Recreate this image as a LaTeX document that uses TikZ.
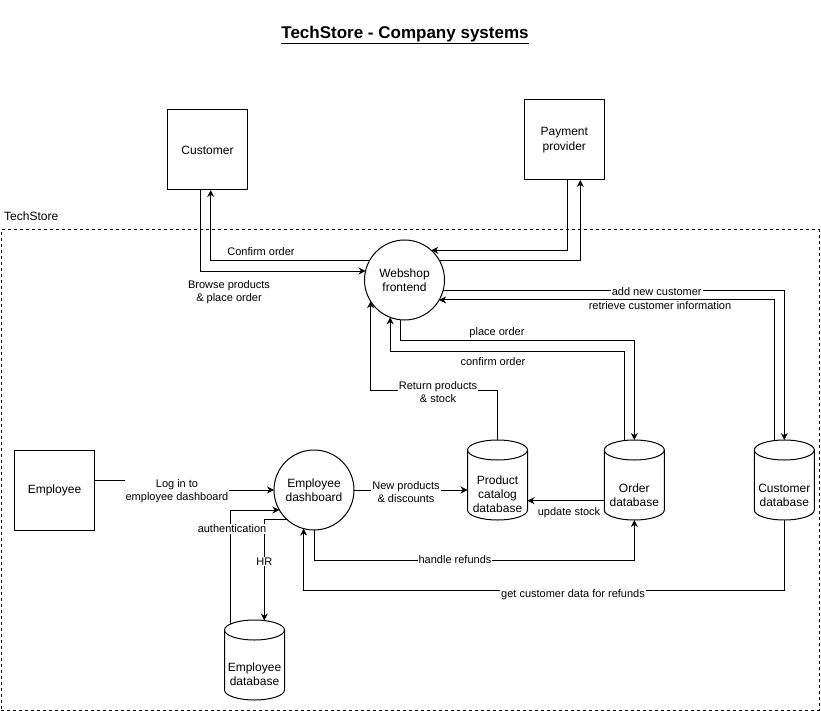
\documentclass[tikz,border=0pt]{standalone}
\usepackage{fontspec}
\setmainfont{Liberation Sans}
\usetikzlibrary{arrows.meta,calc}
\newcommand\drawcyl[1]{%
  \draw[line width=1pt, fill=white] ([yshift=-10pt]#1.north west) -- ([yshift=10pt]#1.south west)
    arc[start angle=180, end angle=360, x radius=30pt, y radius=10pt]
    -- ([yshift=-10pt]#1.north east)
    arc[start angle=0, end angle=180, x radius=30pt, y radius=10pt] -- cycle;
  \draw[line width=1pt] ([yshift=-10pt]#1.north west)
    arc[start angle=180, end angle=360, x radius=30pt, y radius=10pt];}
\begin{document}
\begin{tikzpicture}[x=1pt,y=-1pt,
  box/.style={draw, line width=1pt, minimum width=80pt, minimum height=80pt, inner sep=0pt, outer sep=0pt, align=center, font=\fontsize{12pt}{14.5pt}\selectfont},
  proc/.style={circle, draw, line width=1pt, minimum size=80pt, inner sep=0pt, outer sep=0pt, align=center, font=\fontsize{12pt}{14.5pt}\selectfont},
  dbnode/.style={rectangle, minimum width=60pt, minimum height=80pt, inner sep=0pt, outer sep=0pt},
  dbtext/.style={align=center, font=\fontsize{12pt}{14pt}\selectfont},
  lbl/.style={fill=white, inner sep=1pt, align=center, font=\fontsize{11pt}{13.5pt}\selectfont},
  flow/.style={line width=1pt, -{Stealth[length=7pt,width=7pt]}},
  plainline/.style={line width=1pt}]
\useasboundingbox (0,0) rectangle (821,711);

% title and container
\node[font=\fontsize{17pt}{20pt}\selectfont\bfseries] (title) at (405,35) {\underline{TechStore - Company systems}};
\node[anchor=west, font=\fontsize{12pt}{14pt}\selectfont, inner sep=0pt] (tslabel) at (4,216) {TechStore};
\node[draw, dashed, dash pattern=on 3pt off 3pt, line width=1pt, minimum width=818pt, minimum height=480pt, inner sep=0pt, outer sep=0pt] (ts) at (410,470) {};

% nodes
\node[box] (cust) at (207.5,150) {Customer};
\node[box] (pay) at (564.3,140) {Payment\\provider};
\node[proc] (web) at (404.5,280) {Webshop\\frontend};
\node[box] (emp) at (54.5,490) {Employee};
\node[proc] (dash) at (314,490) {Employee\\dashboard};
\node[dbnode] (empdb) at (254.5,660) {};
\node[dbnode] (proddb) at (497.5,480) {};
\node[dbnode] (orddb) at (634.3,480) {};
\node[dbnode] (custdb) at (784.3,480) {};
\drawcyl{empdb}
\drawcyl{proddb}
\drawcyl{orddb}
\drawcyl{custdb}
\node[dbtext] (empdbt) at (254.5,674) {Employee\\database};
\node[dbtext] (proddbt) at (497.5,494) {Product\\catalog\\database};
\node[dbtext] (orddbt) at (634.3,495) {Order\\database};
\node[dbtext] (custdbt) at (784.3,495) {Customer\\database};

% connectors
\draw[flow] ([xshift=-6.8pt]cust.south) |- (web.167);
\draw[flow] (web.151) -| ([xshift=3.2pt]cust.south);
\draw[flow] (web.29) -| ([xshift=16pt]pay.south);
\draw[flow] ([xshift=3.4pt]pay.south) |- (web.48);
\draw[flow] (web.-15) -| (custdb.north);
\draw[flow] ([xshift=-10pt,yshift=-0.6pt]custdb.north) |- (web.-30.5);
\draw[flow] (web.264.5) -- ++(0,21) -| (orddb.north);
\draw[flow] ([xshift=-10pt,yshift=-0.5pt]orddb.north) -- ++(0,-89.3) -| (web.249.8);
\draw[flow] (proddb.north) -- ++(0,-50) -| (web.212.3);
\draw[flow] ([yshift=9.3pt]emp.east) -| (177,490) -- (dash.west);
\draw[flow] ([xshift=-24.5pt,yshift=-4.2pt]empdb.north) |- (dash.210);
\draw[flow] (dash.228.6) -| ([xshift=9.8pt,yshift=-0.5pt]empdb.north);
\draw[flow] (dash.east) -- ([yshift=-10pt]proddb.west);
\draw[flow] ([yshift=-20.7pt]orddb.west) -- ([yshift=-20.7pt]proddb.east);
\draw[flow] (dash.south) -- ++(0,30) -| (orddb.south);
\draw[flow] (custdb.south) -- ++(0,70) -| (dash.255.5);

% labels
\node[lbl] (l1) at (229,292) {Browse products\\\& place order};
\node[lbl] (l2) at (261,252) {Confirm order};
\node[lbl] (l3) at (656.7,291.5) {add new customer};
\node[lbl] (l4) at (660,305.5) {retrieve customer information};
\node[lbl] (l5) at (497,332.5) {place order};
\node[lbl] (l6) at (493,362) {confirm order};
\node[lbl] (l7) at (438,392) {Return products\\\& stock};
\node[lbl] (l8) at (177,491) {Log in to\\employee dashboard};
\node[lbl] (l9) at (232,529) {authentication};
\node[lbl] (l10) at (264.3,561.5) {HR};
\node[lbl] (l11) at (406,492) {New products\\\& discounts};
\node[lbl] (l12) at (569,512.3) {update stock};
\node[lbl] (l13) at (455,559.5) {handle refunds};
\node[lbl] (l14) at (573,594.5) {get customer data for refunds};
\end{tikzpicture}
\end{document}
